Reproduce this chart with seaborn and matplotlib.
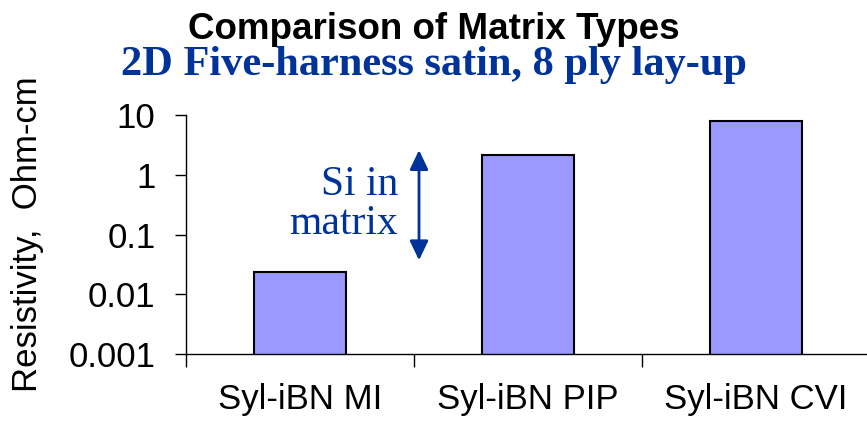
import numpy as np
import pandas as pd
import matplotlib
matplotlib.use("Agg")
import matplotlib.pyplot as plt
import seaborn as sns

# ===== Data =====
matrix_types = ["Syl-iBN MI", "Syl-iBN PIP", "Syl-iBN CVI"]
resistivity = [0.024, 2.15, 7.9]  # Ohm-cm
y_ticks = [0.001, 0.01, 0.1, 1, 10]
y_tick_labels = ["0.001", "0.01", "0.1", "1", "10"]

df = pd.DataFrame({"type": matrix_types, "resistivity": resistivity})

# ===== Plot settings =====
sns.set_theme(style="white")
plt.rcParams["font.family"] = ["Liberation Sans", "DejaVu Sans"]
plt.rcParams["text.color"] = "black"
plt.rcParams["axes.labelcolor"] = "black"
plt.rcParams["xtick.color"] = "black"
plt.rcParams["ytick.color"] = "black"

blue = "#003399"

fig = plt.figure(figsize=(8.67, 4.28), dpi=100)
ax = fig.add_axes([0.2145, 0.173, 0.789, 0.558])
ax.set_yscale("log")

sns.barplot(data=df, x="type", y="resistivity", color="#9999FF", saturation=1,
            edgecolor="black", linewidth=1.5, width=0.4, ax=ax)

ax.set_ylim(0.001, 10)
ax.set_xlim(-0.5, 2.5)
ax.set_yticks(y_ticks)
ax.set_yticklabels(y_tick_labels)
ax.minorticks_off()

# category boundaries get tick marks, labels sit in the middle
ax.set_xticks([-0.5, 0.5, 1.5, 2.5])
ax.set_xticklabels([])
ax.set_xticks(range(len(matrix_types)), minor=True)
ax.set_xticklabels(matrix_types, minor=True)

ax.tick_params(axis="y", which="major", direction="out", length=8, width=1,
               color="black", labelsize=25, pad=14, left=True)
ax.tick_params(axis="x", which="major", direction="out", length=9, width=1,
               color="black", bottom=True)
ax.tick_params(axis="x", which="minor", length=0, labelsize=25, pad=21)

for side in ["top", "right"]:
    ax.spines[side].set_visible(False)
for side in ["left", "bottom"]:
    ax.spines[side].set_color("black")
    ax.spines[side].set_linewidth(1)

ax.set_xlabel("")
ax.set_ylabel("Resistivity,  Ohm-cm", fontsize=25)
ax.yaxis.set_label_coords(-0.207, 0.5)

# ===== Titles =====
fig.text(0.5, 0.91, "Comparison of Matrix Types", ha="center", va="baseline",
         fontsize=26.5, fontweight="bold")
fig.text(0.5, 0.825, "2D Five-harness satin, 8 ply lay-up", ha="center",
         va="baseline", fontsize=30.5, fontweight="bold", color=blue,
         family=["Liberation Serif", "DejaVu Serif"])

# ===== Annotation =====
ax.text(0.43, 0.32, "Si in\nmatrix", ha="right", va="center", fontsize=30,
        color=blue, linespacing=1.0, family=["Liberation Serif", "DejaVu Serif"])
ax.annotate("", xy=(0.522, 2.6), xytext=(0.522, 0.037),
            arrowprops=dict(arrowstyle="<|-|>,head_length=0.42,head_width=0.2",
                            color=blue, lw=2, mutation_scale=28,
                            shrinkA=0, shrinkB=0))

fig.savefig("out.png", dpi=100)
